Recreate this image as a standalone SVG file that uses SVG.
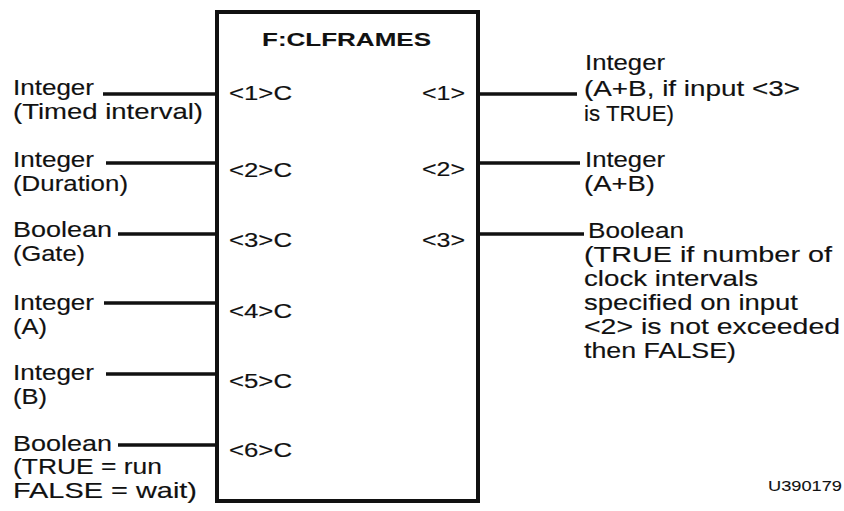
<svg xmlns="http://www.w3.org/2000/svg" width="844" height="511" viewBox="0 0 844 511">
<style>
text{font-family:"Liberation Sans",Arial,sans-serif;fill:#111;stroke:#111;stroke-width:0.15}
.lbl{font-size:22.5px}
.pin{font-size:19.5px}
.ttl{font-size:18.5px;font-weight:bold;stroke-width:0.1}
.id{font-size:15.5px;stroke-width:0.1}
.wire{stroke:#111;stroke-width:3.5;fill:none}
.box{stroke:#111;stroke-width:4;fill:#fff}
</style>
<rect width="844" height="511" fill="#fff"/>
<g id="connectors">
<line class="wire" x1="103" y1="94" x2="216" y2="94"/>
<line class="wire" x1="106" y1="163" x2="216" y2="163"/>
<line class="wire" x1="118" y1="234" x2="216" y2="234"/>
<line class="wire" x1="104" y1="303" x2="216" y2="303"/>
<line class="wire" x1="106" y1="374" x2="216" y2="374"/>
<line class="wire" x1="118" y1="445" x2="216" y2="445"/>
<line class="wire" x1="478" y1="94" x2="577" y2="94"/>
<line class="wire" x1="478" y1="163" x2="580" y2="163"/>
<line class="wire" x1="478" y1="234" x2="584" y2="234"/>
</g>
<g id="block">
<rect class="box" x="217" y="12" width="261" height="489"/>
<text class="ttl" x="262" y="46" textLength="169" lengthAdjust="spacingAndGlyphs">F:CLFRAMES</text>
<text class="pin" x="229" y="100" textLength="63" lengthAdjust="spacingAndGlyphs">&lt;1&gt;C</text>
<text class="pin" x="229" y="177" textLength="63" lengthAdjust="spacingAndGlyphs">&lt;2&gt;C</text>
<text class="pin" x="229" y="247" textLength="63" lengthAdjust="spacingAndGlyphs">&lt;3&gt;C</text>
<text class="pin" x="229" y="318" textLength="63" lengthAdjust="spacingAndGlyphs">&lt;4&gt;C</text>
<text class="pin" x="229" y="388" textLength="63" lengthAdjust="spacingAndGlyphs">&lt;5&gt;C</text>
<text class="pin" x="229" y="457" textLength="63" lengthAdjust="spacingAndGlyphs">&lt;6&gt;C</text>
<text class="pin" x="422" y="100" textLength="43" lengthAdjust="spacingAndGlyphs">&lt;1&gt;</text>
<text class="pin" x="422" y="176" textLength="43" lengthAdjust="spacingAndGlyphs">&lt;2&gt;</text>
<text class="pin" x="422" y="247" textLength="43" lengthAdjust="spacingAndGlyphs">&lt;3&gt;</text>
</g>
<g id="in1">
<text class="lbl" x="13" y="95" textLength="81" lengthAdjust="spacingAndGlyphs">Integer</text>
<text class="lbl" x="13" y="119" textLength="190" lengthAdjust="spacingAndGlyphs">(Timed interval)</text>
</g>
<g id="in2">
<text class="lbl" x="13" y="167" textLength="81" lengthAdjust="spacingAndGlyphs">Integer</text>
<text class="lbl" x="13" y="191" textLength="115" lengthAdjust="spacingAndGlyphs">(Duration)</text>
</g>
<g id="in3">
<text class="lbl" x="13" y="237" textLength="99" lengthAdjust="spacingAndGlyphs">Boolean</text>
<text class="lbl" x="13" y="261" textLength="72" lengthAdjust="spacingAndGlyphs">(Gate)</text>
</g>
<g id="in4">
<text class="lbl" x="13" y="310" textLength="81" lengthAdjust="spacingAndGlyphs">Integer</text>
<text class="lbl" x="13" y="334" textLength="34" lengthAdjust="spacingAndGlyphs">(A)</text>
</g>
<g id="in5">
<text class="lbl" x="13" y="380" textLength="81" lengthAdjust="spacingAndGlyphs">Integer</text>
<text class="lbl" x="13" y="404" textLength="34" lengthAdjust="spacingAndGlyphs">(B)</text>
</g>
<g id="in6">
<text class="lbl" x="13" y="451" textLength="99" lengthAdjust="spacingAndGlyphs">Boolean</text>
<text class="lbl" x="13" y="474" textLength="149" lengthAdjust="spacingAndGlyphs">(TRUE = run</text>
<text class="lbl" x="13" y="498" textLength="184" lengthAdjust="spacingAndGlyphs">FALSE = wait)</text>
</g>
<g id="out1">
<text class="lbl" x="585" y="70" textLength="80" lengthAdjust="spacingAndGlyphs">Integer</text>
<text class="lbl" x="584" y="96" textLength="216" lengthAdjust="spacingAndGlyphs">(A+B, if input &lt;3&gt;</text>
<text class="lbl" x="584" y="121" textLength="90" lengthAdjust="spacingAndGlyphs">is TRUE)</text>
</g>
<g id="out2">
<text class="lbl" x="585" y="167" textLength="80" lengthAdjust="spacingAndGlyphs">Integer</text>
<text class="lbl" x="584" y="191" textLength="71" lengthAdjust="spacingAndGlyphs">(A+B)</text>
</g>
<g id="out3">
<text class="lbl" x="588" y="238" textLength="96" lengthAdjust="spacingAndGlyphs">Boolean</text>
<text class="lbl" x="584" y="262" textLength="248" lengthAdjust="spacingAndGlyphs">(TRUE if number of</text>
<text class="lbl" x="584" y="286" textLength="174" lengthAdjust="spacingAndGlyphs">clock intervals</text>
<text class="lbl" x="584" y="310" textLength="214" lengthAdjust="spacingAndGlyphs">specified on input</text>
<text class="lbl" x="584" y="334" textLength="256" lengthAdjust="spacingAndGlyphs">&lt;2&gt; is not exceeded</text>
<text class="lbl" x="584" y="358" textLength="152" lengthAdjust="spacingAndGlyphs">then FALSE)</text>
</g>
<text class="id" x="768" y="491" textLength="74" lengthAdjust="spacingAndGlyphs">U390179</text>
</svg>
